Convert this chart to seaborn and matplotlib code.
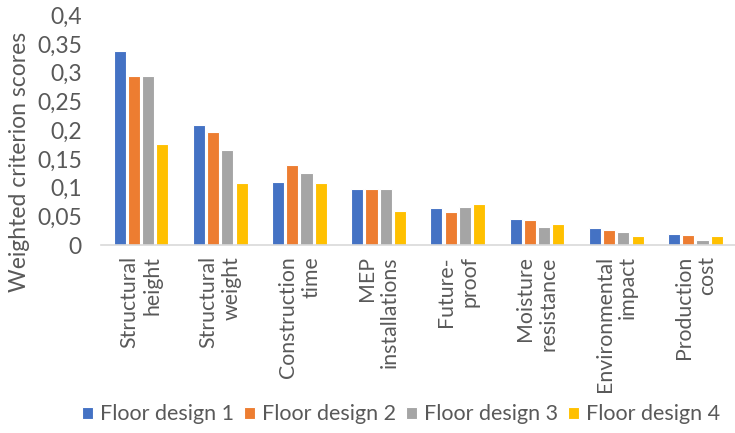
import matplotlib
matplotlib.use("Agg")
import matplotlib.pyplot as plt
import seaborn as sns
import pandas as pd

categories = ["Structural\nheight", "Structural\nweight", "Construction\ntime",
              "MEP\ninstallations", "Future-\nproof", "Moisture\nresistance",
              "Environmental\nimpact", "Production\ncost"]
series_names = ["Floor design 1", "Floor design 2", "Floor design 3", "Floor design 4"]
design1 = [0.338, 0.209, 0.110, 0.098, 0.064, 0.046, 0.029, 0.019]
design2 = [0.294, 0.196, 0.139, 0.097, 0.057, 0.044, 0.027, 0.017]
design3 = [0.294, 0.165, 0.126, 0.097, 0.066, 0.032, 0.023, 0.009]
design4 = [0.176, 0.108, 0.108, 0.060, 0.072, 0.036, 0.015, 0.016]
yticks = [0, 0.05, 0.1, 0.15, 0.2, 0.25, 0.3, 0.35, 0.4]
ytick_labels = ["0", "0,05", "0,1", "0,15", "0,2", "0,25", "0,3", "0,35", "0,4"]
colors = ["#4472C4", "#ED7D31", "#A5A5A5", "#FFC000"]

rows = []
for name, vals in zip(series_names, [design1, design2, design3, design4]):
    for c, v in zip(categories, vals):
        rows.append({"Criterion": c, "Design": name, "Score": v})
df = pd.DataFrame(rows)

sns.set_style("white")
plt.rcParams["font.family"] = ["Lato", "DejaVu Sans"]
text_color = "#595959"

fig = plt.figure(figsize=(7.35, 4.33), dpi=100)
ax = fig.add_axes([0.138, 0.434, 0.862, 0.531])
sns.barplot(data=df, x="Criterion", y="Score", hue="Design", palette=colors,
            order=categories, hue_order=series_names, width=0.72, gap=0.15,
            saturation=1, edgecolor="white", linewidth=0.8, ax=ax, legend=True)

ax.set_ylim(0, 0.4)
ax.set_xlim(-0.5, len(categories) - 0.5)
ax.set_yticks(yticks)
ax.set_yticklabels(ytick_labels, fontsize=16.5, color=text_color)
ax.set_xticks(range(len(categories)))
ax.set_xticklabels(categories, rotation=90, fontsize=15.3, color=text_color,
                   va="top", ha="center", multialignment="right")
ax.tick_params(axis="x", length=0, pad=8)
ax.tick_params(axis="y", length=0, pad=14)
ax.set_xlabel("")
ax.set_ylabel("Weighted criterion scores", fontsize=16.5, color=text_color)
ax.yaxis.set_label_coords(-0.113, 0.36)
for s in ["top", "right", "left"]:
    ax.spines[s].set_visible(False)
ax.spines["bottom"].set_color("#D9D9D9")
ax.spines["bottom"].set_linewidth(1.2)

handles, labels = ax.get_legend_handles_labels()
ax.get_legend().remove()
fig.legend(handles, labels, loc="lower center", bbox_to_anchor=(0.546, -0.025), ncol=4,
           frameon=False, fontsize=15.5, handlelength=0.5, handleheight=0.5,
           handletextpad=0.35, columnspacing=0.45, labelcolor=text_color)

fig.savefig("out.png", dpi=100)
